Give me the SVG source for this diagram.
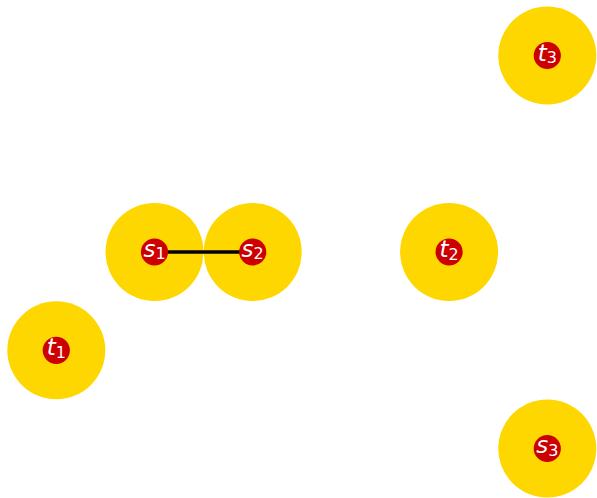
<svg xmlns="http://www.w3.org/2000/svg" width="597" height="498" viewBox="0 0 597 498">
<style>
.halo{fill:#ffd700;}
.core{fill:#cc0000;}
.lbl{font-family:"DejaVu Sans",sans-serif;font-size:23px;fill:#ffffff;text-anchor:middle;}
.it{font-style:italic;}
.sub{font-size:16px;font-style:normal;}
.edge{stroke:#000000;stroke-width:3.5;fill:none;}
</style>
<rect width="597" height="498" fill="#ffffff"/>
<g id="halos">
<circle class="halo" cx="547.3" cy="55.5" r="49"/>
<circle class="halo" cx="154.5" cy="252" r="49"/>
<circle class="halo" cx="252.7" cy="252" r="49"/>
<circle class="halo" cx="449.1" cy="252" r="49"/>
<circle class="halo" cx="56.3" cy="350.3" r="49"/>
<circle class="halo" cx="547.3" cy="448.5" r="49"/>
</g>
<g id="connectors">
<line class="edge" x1="154.5" y1="252" x2="252.7" y2="252"/>
</g>
<g id="node-t3">
<circle class="core" cx="547.3" cy="55.5" r="13.6"/>
<text class="lbl" x="547.3" y="60.5"><tspan class="it">t</tspan><tspan class="sub" dy="2.6">3</tspan></text>
</g>
<g id="node-s1">
<circle class="core" cx="154.5" cy="252" r="13.6"/>
<text class="lbl" x="154.5" y="256.7"><tspan class="it">s</tspan><tspan class="sub" dy="2.6">1</tspan></text>
</g>
<g id="node-s2">
<circle class="core" cx="252.7" cy="252" r="13.6"/>
<text class="lbl" x="252.7" y="256.7"><tspan class="it">s</tspan><tspan class="sub" dy="2.6">2</tspan></text>
</g>
<g id="node-t2">
<circle class="core" cx="449.1" cy="252" r="13.6"/>
<text class="lbl" x="449.1" y="257"><tspan class="it">t</tspan><tspan class="sub" dy="2.6">2</tspan></text>
</g>
<g id="node-t1">
<circle class="core" cx="56.3" cy="350.3" r="13.6"/>
<text class="lbl" x="56.3" y="355.3"><tspan class="it">t</tspan><tspan class="sub" dy="2.6">1</tspan></text>
</g>
<g id="node-s3">
<circle class="core" cx="547.3" cy="448.5" r="13.6"/>
<text class="lbl" x="547.3" y="453.2"><tspan class="it">s</tspan><tspan class="sub" dy="2.6">3</tspan></text>
</g>
</svg>
